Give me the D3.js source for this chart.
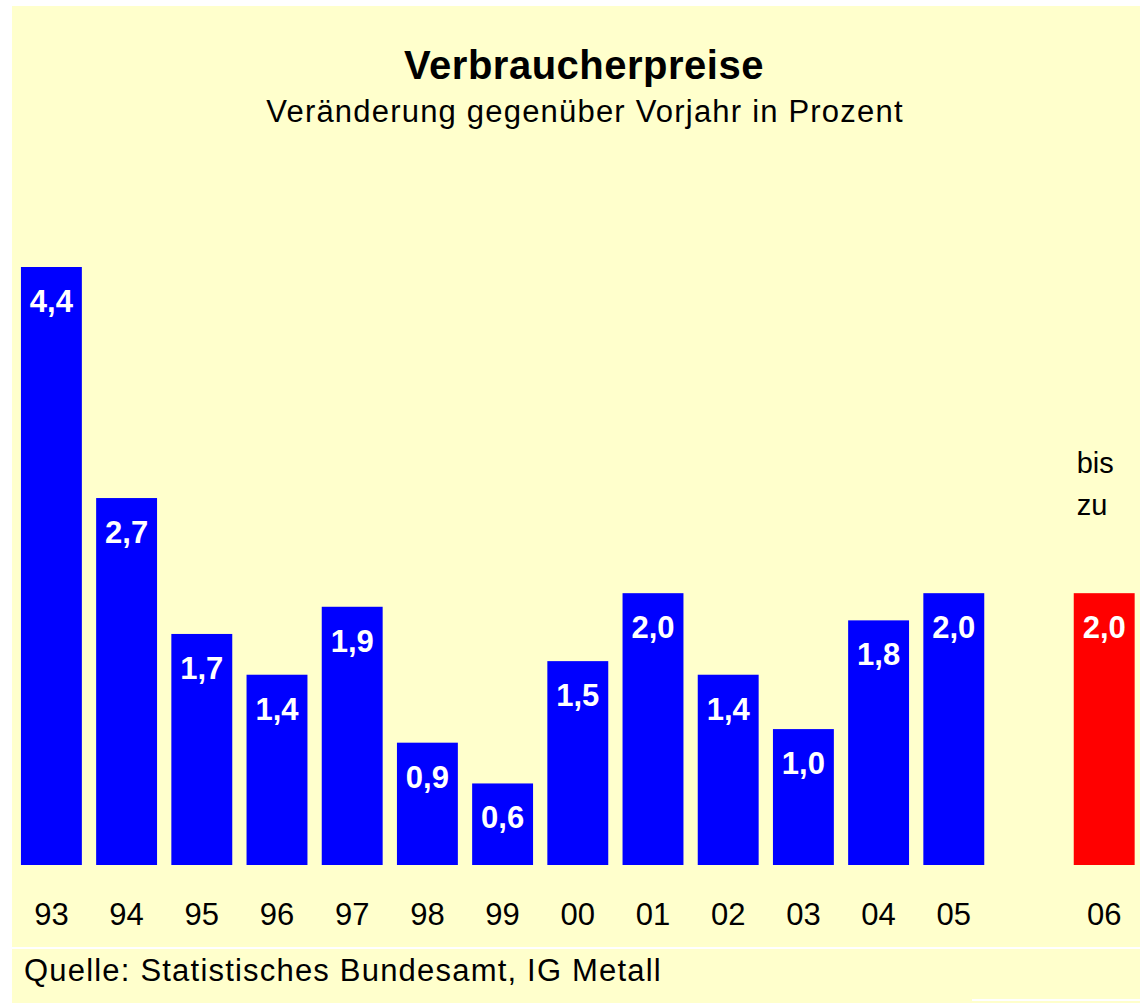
<!DOCTYPE html>
<html>
<head>
<meta charset="utf-8">
<script src="https://cdn.jsdelivr.net/npm/d3@7"></script>
<style>
  body { margin: 0; background: #fff; }
  svg { display: block; font-family: "Liberation Sans", Arial, sans-serif; }
</style>
</head>
<body>
<div id="container"></div>
<script>
// data
let years = ["93", "94", "95", "96", "97", "98", "99", "00", "01", "02", "03", "04", "05", "06"];
let values = [4.4, 2.7, 1.7, 1.4, 1.9, 0.9, 0.6, 1.5, 2.0, 1.4, 1.0, 1.8, 2.0, 2.0];
let forecast = ["06"];
let noteLines = ["bis", "zu"];

let width = 1140;
let height = 1003;

let svg = d3.select("#container")
  .append("svg")
  .attr("width", width)
  .attr("height", height);

// yellow panel
svg.append("rect")
  .attr("x", 12).attr("y", 6)
  .attr("width", width - 12).attr("height", height - 6)
  .attr("fill", "#ffffcc");

// slot list with one empty slot before the forecast year
let slots = years.slice(0, 13).concat(["gap"], years.slice(13));

let x = d3.scaleBand()
  .domain(slots)
  .range([13.8, 1141.8])
  .paddingInner(0.19)
  .paddingOuter(0.095);

let y = d3.scaleLinear()
  .domain([0, 4.4])
  .range([865, 267]);

let data = years.map(function (d, i) { return { year: d, value: values[i] }; });

svg.append("text")
  .attr("x", 584).attr("y", 79)
  .attr("text-anchor", "middle")
  .style("font-size", "40px")
  .style("font-weight", "bold")
  .style("letter-spacing", "0.5px")
  .text("Verbraucherpreise");

svg.append("text")
  .attr("x", 585).attr("y", 122)
  .attr("text-anchor", "middle")
  .style("font-size", "31px")
  .style("letter-spacing", "1.2px")
  .text("Veränderung gegenüber Vorjahr in Prozent");

svg.selectAll(".bar").data(data)
  .enter().append("rect")
  .attr("class", "bar")
  .attr("x", function (d) { return x(d.year); })
  .attr("y", function (d) { return y(d.value); })
  .attr("width", x.bandwidth())
  .attr("height", function (d) { return y(0) - y(d.value); })
  .attr("fill", function (d) { return forecast.includes(d.year) ? "#ff0000" : "#0000ff"; });

svg.selectAll(".val").data(data)
  .enter().append("text")
  .attr("class", "val")
  .attr("x", function (d) { return x(d.year) + x.bandwidth() / 2; })
  .attr("y", function (d) { return y(d.value) + 45; })
  .attr("text-anchor", "middle")
  .attr("fill", "#fff")
  .style("font-size", "31px")
  .style("font-weight", "bold")
  .text(function (d) { return d3.format(".1f")(d.value).replace(".", ","); });

// year axis labels
let xAxis = d3.axisBottom(x)
  .tickValues(years)
  .tickSize(0)
  .tickPadding(0);

let axisG = svg.append("g")
  .attr("transform", "translate(0,903)")
  .call(xAxis);
axisG.select(".domain").remove();
axisG.selectAll("text")
  .attr("dy", "0.71em")
  .attr("fill", "#000")
  .style("font-family", "\"Liberation Sans\", Arial, sans-serif")
  .style("font-size", "31px");

// "bis zu" note above forecast bar
let fx = x(forecast[0]) + 3;
svg.selectAll(".note").data(noteLines)
  .enter().append("text")
  .attr("class", "note")
  .attr("x", fx)
  .attr("y", function (d, i) { return 473 + i * 42; })
  .style("font-size", "29px")
  .text(function (d) { return d; });

// separator lines
svg.append("rect")
  .attr("x", 12).attr("y", 947)
  .attr("width", width - 12).attr("height", 2)
  .attr("fill", "#fff");
svg.append("rect")
  .attr("x", 972).attr("y", 999)
  .attr("width", width - 972).attr("height", 2)
  .attr("fill", "#fff");

svg.append("text")
  .attr("x", 24).attr("y", 981)
  .style("font-size", "31px")
  .style("letter-spacing", "1.2px")
  .text("Quelle: Statistisches Bundesamt, IG Metall");
</script>
</body>
</html>
